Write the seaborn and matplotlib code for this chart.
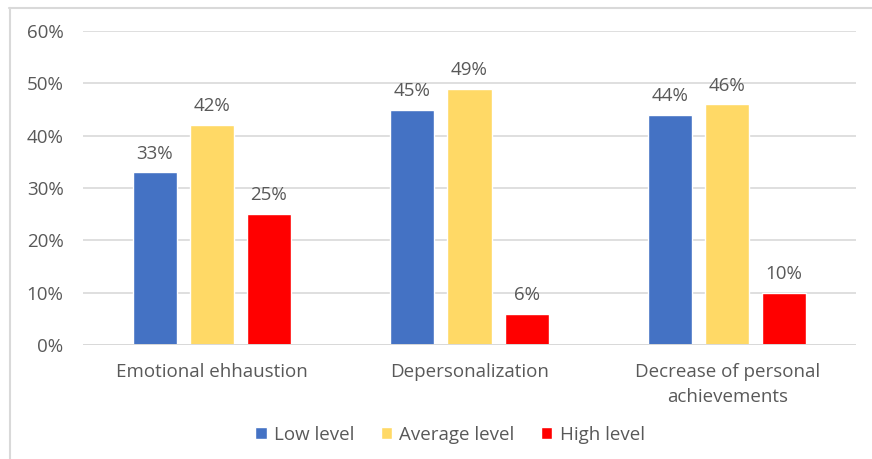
import matplotlib
matplotlib.use("Agg")
import matplotlib.pyplot as plt
from matplotlib.lines import Line2D
import seaborn as sns
import pandas as pd

categories = ["Emotional ehhaustion", "Depersonalization", "Decrease of personal\nachievements"]
levels = ["Low level", "Average level", "High level"]
low_level = [33, 45, 44]
average_level = [42, 49, 46]
high_level = [25, 6, 10]
y_ticks = [0, 10, 20, 30, 40, 50, 60]
colors = ["#4472C4", "#FFD966", "#FF0000"]

rows = []
for series, vals in zip(levels, [low_level, average_level, high_level]):
    for cat, v in zip(categories, vals):
        rows.append({"category": cat, "level": series, "value": v})
df = pd.DataFrame(rows)

sns.set_theme(style="white")
plt.rcParams["font.family"] = ["Open Sans", "DejaVu Sans"]
text_color = "#595959"
fs = 13.5

fig = plt.figure(figsize=(8.72, 4.59), dpi=100)
ax = fig.add_axes([83 / 872, 1 - 345 / 459, (856 - 83) / 872, (345 - 31) / 459])

sns.barplot(data=df, x="category", y="value", hue="level", hue_order=levels,
            palette=colors, width=0.664, gap=0.228, ax=ax, saturation=1,
            errorbar=None, legend=True)

ax.set_ylim(0, 60)
ax.set_xlim(-0.5, 2.5)
ax.set_yticks(y_ticks)
ax.set_yticklabels([f"{t}%" for t in y_ticks])
ax.yaxis.grid(True, color="#D9D9D9", linewidth=1.2)
ax.set_axisbelow(True)
for s in ax.spines.values():
    s.set_visible(False)
ax.axhline(0, color="#D9D9D9", linewidth=1.4, zorder=1)
ax.set_xlabel("")
ax.set_ylabel("")
ax.tick_params(axis="y", length=0, pad=14, labelsize=fs, labelcolor=text_color)
ax.tick_params(axis="x", length=0, pad=13, labelsize=fs, labelcolor=text_color)
for lbl in ax.get_xticklabels():
    lbl.set_linespacing(1.5)

for container in ax.containers:
    ax.bar_label(container, labels=[f"{v:.0f}%" for v in container.datavalues],
                 padding=7, fontsize=fs, color=text_color)

handles, labels = ax.get_legend_handles_labels()
ax.get_legend().remove()
fig.legend(handles, labels, loc="center", bbox_to_anchor=(450 / 872, 1 - 435 / 459),
           ncol=3, frameon=False, fontsize=fs, labelcolor=text_color,
           handlelength=0.6, handleheight=0.6, handletextpad=0.4, columnspacing=1.4)

# chart frame
fig.add_artist(Line2D([9 / 872, 1.0], [1 - 7.5 / 459] * 2, color="#D9D9D9", linewidth=1.5,
                      transform=fig.transFigure))
fig.add_artist(Line2D([9.5 / 872] * 2, [1 - 7.5 / 459, 0.0], color="#D9D9D9", linewidth=1.5,
                      transform=fig.transFigure))

fig.savefig("out.png", dpi=100)
